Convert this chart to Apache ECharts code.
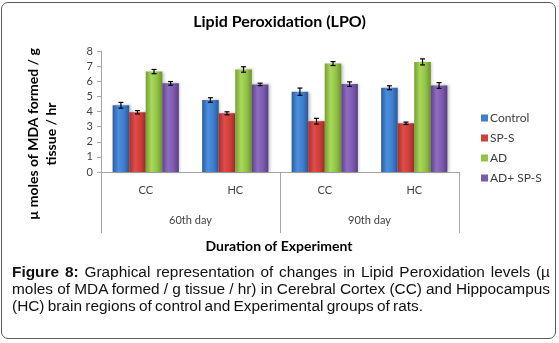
<!DOCTYPE html>
<html lang="en">
<head>
  <meta charset="utf-8">
  <style>
    body { margin: 0; width: 559px; height: 343px; position: relative; background: #fff; overflow: hidden; }
    #frame { position: absolute; left: 1px; top: 2px; width: 553px; height: 335px; border: 1.5px solid #5a5a5a; border-radius: 7px; }
    #container { position: absolute; left: 0; top: 0; width: 559px; height: 343px; }
    #caption { position: absolute; left: 12px; top: 263px; width: 538px; font: 15.4px "Liberation Sans", Arial, sans-serif; line-height: 17px; color: #111; }
    #caption span { display: block; white-space: nowrap; text-align: justify; text-align-last: justify; word-spacing: -1px; }
    #caption span.last { text-align-last: left; }
  </style>
</head>
<body>
<div id="frame"></div>
<div id="container"></div>
<div id="caption"><span><b>Figure 8:</b> Graphical representation of changes in Lipid Peroxidation levels (µ</span><span>moles of MDA formed / g tissue / hr) in Cerebral Cortex (CC) and Hippocampus</span><span class="last">(HC) brain regions of control and Experimental groups of rats.</span></div>

<script src="https://cdn.jsdelivr.net/npm/echarts@6/dist/echarts.min.js"></script>
<script>
  // data
  var regions = ['CC', 'HC', 'CC', 'HC'];
  var periods = ['60th day', '90th day'];
  var groupNames = ['Control', 'SP-S', 'AD', 'AD+ SP-S'];
  var control = [4.41, 4.76, 5.31, 5.57];
  var sps = [3.95, 3.88, 3.36, 3.22];
  var ad = [6.64, 6.78, 7.17, 7.28];
  var adSps = [5.86, 5.79, 5.81, 5.72];
  var controlErr = [0.19, 0.15, 0.24, 0.13];
  var spsErr = [0.11, 0.10, 0.19, 0.08];
  var adErr = [0.14, 0.18, 0.13, 0.20];
  var adSpsErr = [0.12, 0.08, 0.15, 0.19];
  var yTicks = { min: 0, max: 8, interval: 1 };

  var values = [control, sps, ad, adSps];
  var errors = [controlErr, spsErr, adErr, adSpsErr];
  var gap = 0.26;

  function gloss(c0, c1, c2, c3) {
    return new echarts.graphic.LinearGradient(0, 0, 1, 0, [
      { offset: 0, color: c0 },
      { offset: 0.35, color: c1 },
      { offset: 0.7, color: c2 },
      { offset: 1, color: c3 }
    ]);
  }
  var fills = [
    gloss('#2d5c9b', '#4b8fe0', '#3d7dcc', '#2a5893'),
    gloss('#a5302e', '#e04c49', '#cd3d3a', '#982d2a'),
    gloss('#76a030', '#a9d85c', '#90c145', '#6b922b'),
    gloss('#5f428b', '#8f6ec2', '#7b5aae', '#583d82')
  ];
  var legendColors = ['#3f7ecb', '#cf3f3c', '#92c345', '#7c5aae'];

  var myChart = echarts.init(document.getElementById('container'), null, { renderer: 'canvas' });

  var series = groupNames.map(function (name, i) {
    return {
      name: name,
      type: 'bar',
      data: values[i],
      barGap: 0,
      barCategoryGap: (gap * 100) + '%',
      itemStyle: { color: fills[i], shadowColor: 'rgba(0,0,0,0.25)', shadowBlur: 3, shadowOffsetX: 1.5 }
    };
  });

  // error bars
  var errData = [];
  values.forEach(function (arr, si) {
    arr.forEach(function (v, ci) { errData.push([ci, si, v, errors[si][ci]]); });
  });
  series.push({
    type: 'custom',
    silent: true,
    z: 5,
    encode: { x: 0, y: 2 },
    data: errData,
    renderItem: function (params, api) {
      var ci = api.value(0), si = api.value(1), v = api.value(2), e = api.value(3);
      var band = api.size([1, 0])[0];
      var bw = band * (1 - gap) / 4;
      var cx = api.coord([ci, v])[0] + (si - 1.5) * bw;
      var yHi = api.coord([ci, v + e])[1];
      var yLo = api.coord([ci, v - e])[1];
      var st = { stroke: '#000', lineWidth: 1.2 };
      return {
        type: 'group',
        children: [
          { type: 'line', shape: { x1: cx, y1: yHi, x2: cx, y2: yLo }, style: st },
          { type: 'line', shape: { x1: cx - 2.5, y1: yHi, x2: cx + 2.5, y2: yHi }, style: st },
          { type: 'line', shape: { x1: cx - 2.5, y1: yLo, x2: cx + 2.5, y2: yLo }, style: st }
        ]
      };
    }
  });

  var option = {
    animation: false,
    textStyle: { fontFamily: 'Lato' },
    title: {
      text: 'Lipid Peroxidation (LPO)',
      left: 'center',
      top: 9,
      textStyle: { fontFamily: 'Lato', fontSize: 16, fontWeight: 'bold', color: '#000' }
    },
    legend: {
      orient: 'vertical',
      left: 476,
      top: 106,
      itemWidth: 7,
      itemHeight: 7,
      itemGap: 6,
      icon: 'rect',
      data: groupNames.map(function (n, i) { return { name: n, itemStyle: { color: legendColors[i] } }; }),
      textStyle: { fontSize: 12, color: '#404040', padding: [0, 0, 0, -3], height: 14, lineHeight: 14 }
    },
    grid: { left: 101, right: 100, top: 51, bottom: 171 },
    xAxis: [
      {
        type: 'category',
        data: regions,
        position: 'bottom',
        axisLine: { lineStyle: { color: '#a6a6a6' } },
        axisTick: { show: false },
        axisLabel: { color: '#404040', fontSize: 11, margin: 13 }
      },
      {
        type: 'category',
        data: periods,
        position: 'bottom',
        axisLine: { show: false },
        axisTick: { show: true, length: 61, interval: 0, lineStyle: { color: '#a6a6a6' } },
        axisLabel: { color: '#404040', fontSize: 11, margin: 43 }
      }
    ],
    yAxis: {
      type: 'value',
      min: yTicks.min,
      max: yTicks.max,
      interval: yTicks.interval,
      splitLine: { show: false },
      axisLine: { show: true, lineStyle: { color: '#a6a6a6' } },
      axisTick: { show: true, length: 4, lineStyle: { color: '#a6a6a6' } },
      axisLabel: { color: '#404040', fontSize: 11, margin: 8 }
    },
    graphic: [
      {
        type: 'text',
        x: 42,
        y: 134,
        rotation: Math.PI / 2,
        style: {
          text: 'µ moles of MDA formed / g\ntissue / hr',
          fontFamily: 'Lato',
          fontSize: 14,
          fontWeight: 'bold',
          lineHeight: 18,
          fill: '#000',
          align: 'center',
          verticalAlign: 'middle'
        }
      },
      {
        type: 'text',
        x: 279,
        y: 246,
        style: {
          text: 'Duration of Experiment',
          fontFamily: 'Lato',
          fontSize: 14,
          fontWeight: 'bold',
          fill: '#000',
          align: 'center',
          verticalAlign: 'middle'
        }
      }
    ],
    series: series
  };

  myChart.setOption(option);
  window.addEventListener('resize', myChart.resize);
</script>
</body>
</html>
